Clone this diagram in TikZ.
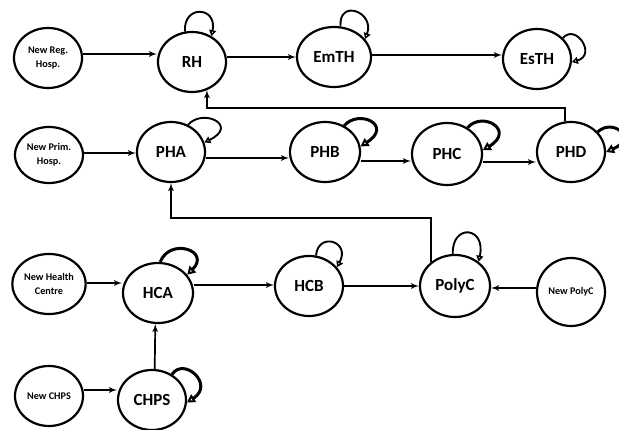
\documentclass[tikz,border=0pt]{standalone}
\usepackage{fontspec}
\setmainfont{Carlito}
\usetikzlibrary{shapes.geometric, arrows, arrows.meta}
\tikzstyle{state} = [draw, ellipse, line width=2.2pt, minimum width=68pt, minimum height=60pt, inner sep=1pt, align=center, font=\bfseries\fontsize{17}{19}\selectfont]
\tikzstyle{source} = [state, font=\bfseries\fontsize{10.2}{14}\selectfont]
\tikzstyle{line} = [draw, line width=1.7pt, -latex']
\tikzstyle{selfline} = [draw, line width=1.9pt, -{Triangle[open, length=6pt, width=7pt]}]
\tikzstyle{heavy} = [draw, line width=3pt, -{Triangle[open, length=8pt, width=9pt]}]
\newcommand{\arrow}[3]{
  \path [line] (#1.east |- 0,#3) -- (#2.west |- 0,#3);}
\newcommand{\selfloop}[6]{
  \path [#1] (#2.#3) .. controls +#5 and +#6 .. (#2.#4);}

\begin{document}
\begin{tikzpicture}[x=1pt, y=-1pt]
		\useasboundingbox (0,0) rectangle (619,430);

		% Draw diagram elements
		\node (newreg) [source] at (48,58) {New Reg.\\Hosp.};
		\node (rh) [state] at (192,62) {RH};
		\node (emth) [state, minimum width=74pt] at (334,57) {EmTH};
		\node (esth) [state] at (537,59) {EsTH};

		\node (newprim) [source, minimum height=56pt] at (49,155) {New Prim.\\Hosp.};
		\node (pha) [state] at (171,152) {PHA};
		\node (phb) [state, minimum width=70pt] at (325,152) {PHB};
		\node (phc) [state, minimum width=70pt, minimum height=62pt] at (447,154) {PHC};
		\node (phd) [state] at (571,152) {PHD};

		\node (newhc) [source] at (49,284) {New Health\\Centre};
		\node (hca) [state, minimum width=70pt] at (158,293) {HCA};
		\node (hcb) [state] at (309,286) {HCB};
		\node (polyc) [state, minimum width=70pt, minimum height=62pt] at (455,286) {PolyC};
		\node (newpolyc) [source, minimum width=68pt, minimum height=68pt] at (571,292) {New PolyC};

		\node (newchps) [source] at (49,396) {New CHPS};
		\node (chps) [state] at (152,400) {CHPS};

		% Draw arrows between elements
		\arrow{newreg}{rh}{54}
		\arrow{rh}{emth}{57}
		\arrow{emth}{esth}{55}
		\arrow{newprim}{pha}{153}
		\arrow{pha}{phb}{158}
		\arrow{phb}{phc}{161}
		\arrow{phc}{phd}{162}
		\arrow{newhc}{hca}{283}
		\arrow{hca}{hcb}{285}
		\arrow{hcb}{polyc}{286}
		\arrow{newchps}{chps}{390}
		\path [line] (newpolyc.west |- 0,288) -- (polyc.east |- 0,288);
		\path [line] (chps.85) -- (hca.265);
		\path [line] (phd.101) |- (rh.298 |- 0,108) -- (rh.298);
		\path [line] (polyc.135) |- (pha.south |- 0,218) -- (pha.south);

		% Draw self loops
		\selfloop{selfline}{rh}{103}{53}{(-2,-27)}{(6,-30)}
		\selfloop{selfline}{emth}{78}{30}{(-2,-28)}{(10,-27)}
		\selfloop{selfline}{esth}{39}{-5}{(13,-15)}{(25,-7)}
		\selfloop{selfline}{pha}{58}{16}{(15,-17)}{(35,-17)}
		\selfloop{heavy}{phb}{54}{9}{(15,-17)}{(33,-21)}
		\selfloop{heavy}{phc}{52}{6}{(15,-17)}{(33,-20)}
		\selfloop{heavy}{phd}{37}{0}{(15,-14)}{(32,-14)}
		\selfloop{heavy}{hca}{86}{32}{(10,-25)}{(24,-24)}
		\selfloop{selfline}{hcb}{77}{34}{(2,-24)}{(14,-26)}
		\selfloop{selfline}{polyc}{94}{46}{(-1,-31)}{(8,-35)}
		\selfloop{heavy}{chps}{52}{-4}{(12,-18)}{(28,-18)}

	\end{tikzpicture}
\end{document}
